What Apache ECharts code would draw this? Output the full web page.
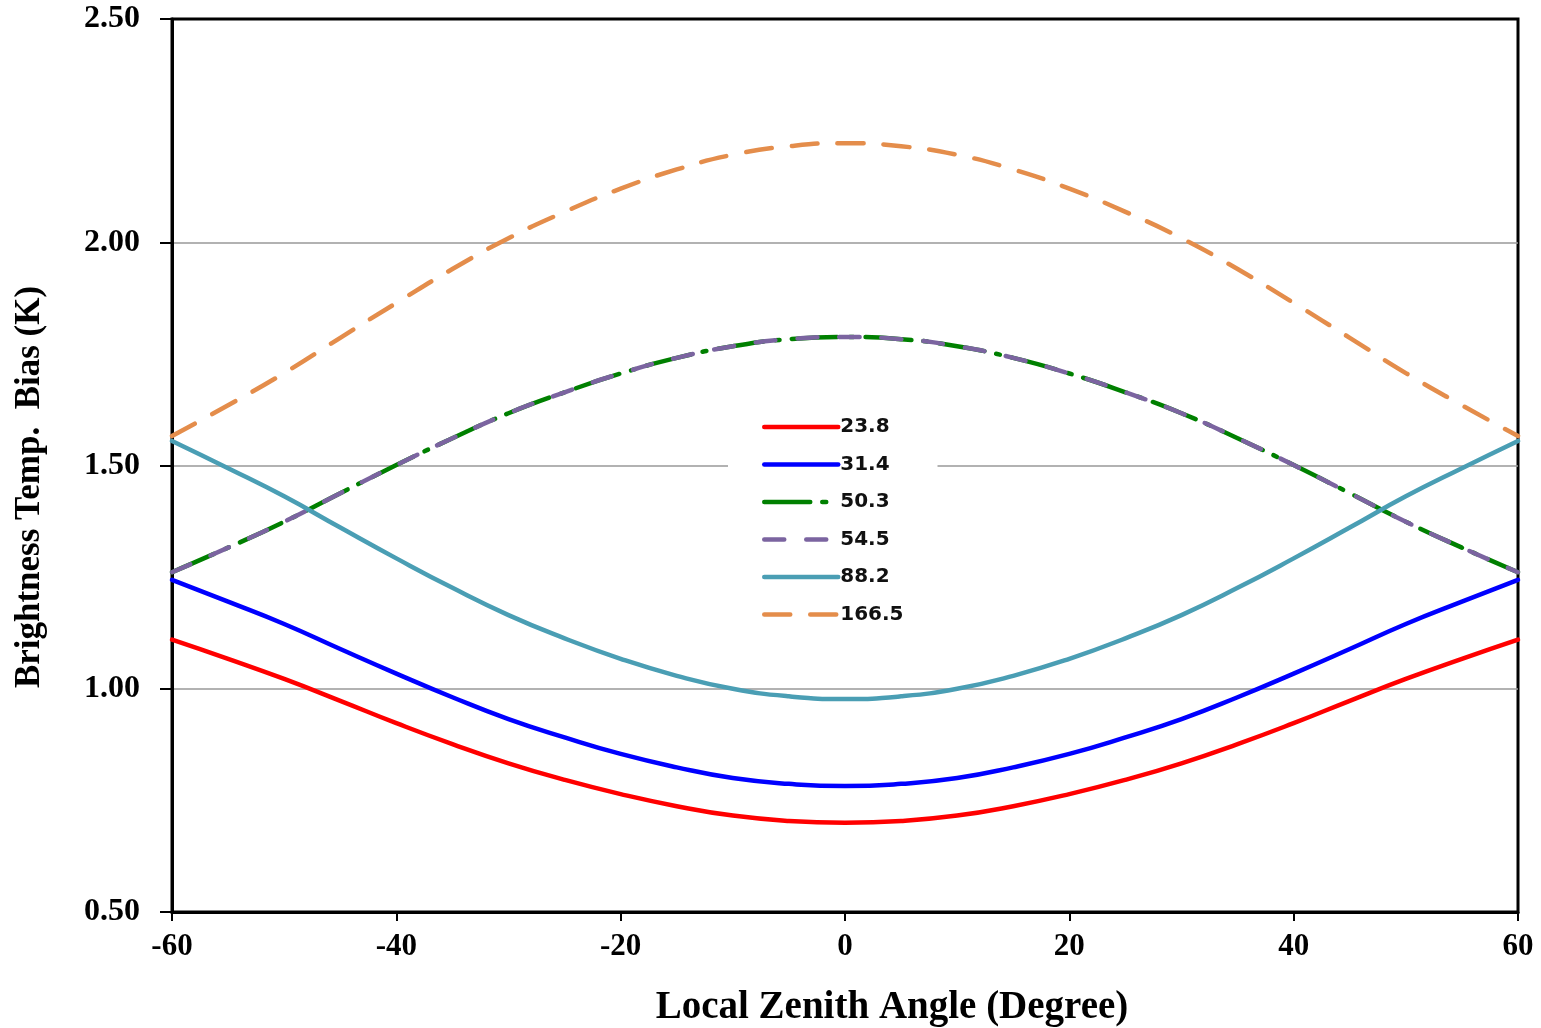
<!DOCTYPE html>
<html>
<head>
<meta charset="utf-8">
<script src="https://cdn.jsdelivr.net/npm/echarts@6/dist/echarts.min.js"></script>
<style>
  html, body { margin: 0; padding: 0; background: #fff; }
  #chart { width: 1541px; height: 1028px; }
</style>
</head>
<body>
<div id="chart"></div>
<script>
// local zenith angle, degrees
var angles = [-60, -55, -50, -45, -40, -35, -30, -25, -20, -15, -10, -5, 0, 5, 10, 15, 20, 25, 30, 35, 40, 45, 50, 55, 60];

// bias (K) per channel
var ch238 = [1.110, 1.067, 1.022, 0.973, 0.923, 0.876, 0.833, 0.796, 0.764, 0.737, 0.716, 0.704, 0.700, 0.704, 0.716, 0.737, 0.764, 0.796, 0.833, 0.876, 0.923, 0.973, 1.022, 1.067, 1.110];
var ch314 = [1.244, 1.195, 1.145, 1.089, 1.034, 0.981, 0.932, 0.891, 0.854, 0.824, 0.800, 0.787, 0.782, 0.787, 0.800, 0.824, 0.854, 0.891, 0.932, 0.981, 1.034, 1.089, 1.145, 1.195, 1.244];
var ch503 = [1.261, 1.316, 1.374, 1.438, 1.501, 1.561, 1.617, 1.664, 1.706, 1.741, 1.767, 1.783, 1.788, 1.783, 1.767, 1.741, 1.706, 1.664, 1.617, 1.561, 1.501, 1.438, 1.374, 1.316, 1.261];
var ch545 = [1.261, 1.316, 1.374, 1.438, 1.501, 1.561, 1.617, 1.664, 1.706, 1.741, 1.767, 1.783, 1.788, 1.783, 1.767, 1.741, 1.706, 1.664, 1.617, 1.561, 1.501, 1.438, 1.374, 1.316, 1.261];
var ch882 = [1.555, 1.494, 1.431, 1.361, 1.292, 1.226, 1.165, 1.113, 1.067, 1.029, 1.000, 0.983, 0.977, 0.983, 1.000, 1.029, 1.067, 1.113, 1.165, 1.226, 1.292, 1.361, 1.431, 1.494, 1.555];
var ch1665 = [1.566, 1.635, 1.707, 1.786, 1.864, 1.940, 2.009, 2.068, 2.120, 2.163, 2.196, 2.215, 2.222, 2.215, 2.196, 2.163, 2.120, 2.068, 2.009, 1.940, 1.864, 1.786, 1.707, 1.635, 1.566];

var channelNames = ['23.8', '31.4', '50.3', '54.5', '88.2', '166.5'];

function pairs(vals) {
  return angles.map(function (a, i) { return [a, vals[i]]; });
}

function lineSeries(name, vals, color, dash) {
  return {
    name: name,
    type: 'line',
    data: pairs(vals),
    smooth: true,
    symbol: 'none',
    lineStyle: { color: color, width: 4.5, type: dash || 'solid', cap: 'round' },
    itemStyle: { color: color }
  };
}

var serif = '"Liberation Serif", "Times New Roman", serif';

var chart = echarts.init(document.getElementById('chart'));

var option = {
  animation: false,
  backgroundColor: '#fff',
  grid: {
    left: 172, right: 23, top: 19, bottom: 116,
    show: true, borderColor: '#000', borderWidth: 3
  },
  legend: {
    orient: 'vertical',
    left: 728, top: 409,
    data: channelNames,
    itemWidth: 74, itemHeight: 4,
    itemGap: 17.5,
    padding: [8, 34, 8, 34],
    backgroundColor: '#fff',
    lineStyle: { width: 4.5, cap: 'round' },
    itemStyle: { opacity: 0 },
    textStyle: { fontFamily: '"DejaVu Sans", Verdana, sans-serif', fontWeight: 'bold', fontSize: 20, color: '#111', padding: [0, 0, 0, -3] }
  },
  xAxis: {
    type: 'value',
    min: -60, max: 60, interval: 20,
    axisLine: { show: true, onZero: false, lineStyle: { color: '#000', width: 3 } },
    axisTick: { show: true, length: 9, lineStyle: { color: '#000', width: 2 } },
    splitLine: { show: false },
    axisLabel: { fontFamily: serif, fontWeight: 'bold', fontSize: 31, color: '#000', margin: 19 }
  },
  yAxis: {
    type: 'value',
    min: 0.5, max: 2.5, interval: 0.5,
    axisLine: { show: true, onZero: false, lineStyle: { color: '#000', width: 3 } },
    axisTick: { show: true, length: 12, lineStyle: { color: '#000', width: 2 } },
    splitLine: { show: true, showMinLine: false, showMaxLine: false, lineStyle: { color: '#999', width: 1.5 } },
    axisLabel: {
      fontFamily: serif, fontWeight: 'bold', fontSize: 32, color: '#000', margin: 32,
      formatter: function (v) { return v.toFixed(2); }
    }
  },
  graphic: [
    {
      type: 'text', x: 30, y: 487, rotation: Math.PI / 2,
      style: {
        text: 'Brightness Temp.  Bias (K)', fill: '#000',
        font: 'bold 35px ' + serif, align: 'center', verticalAlign: 'middle'
      }
    },
    {
      type: 'text', x: 892, y: 1008,
      style: {
        text: 'Local Zenith Angle (Degree)', fill: '#000',
        font: 'bold 39px ' + serif, align: 'center', verticalAlign: 'middle'
      }
    }
  ],
  series: [
    lineSeries('23.8', ch238, '#ff0000'),
    lineSeries('31.4', ch314, '#0000ff'),
    lineSeries('50.3', ch503, '#008000', [46, 12, 4, 12]),
    lineSeries('54.5', ch545, '#7b64a0', [20, 22]),
    lineSeries('88.2', ch882, '#4a9eb4'),
    lineSeries('166.5', ch1665, '#e48d4b', [26, 20])
  ]
};

option && chart.setOption(option);
</script>
</body>
</html>
